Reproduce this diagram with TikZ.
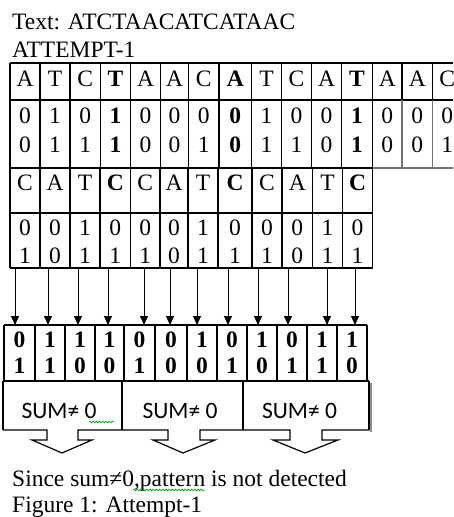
\documentclass[tikz,border=0pt]{standalone}
\usepackage{fontspec}
\setmainfont{Liberation Serif}
\newfontfamily\calib{Carlito}
\usetikzlibrary{arrows.meta,decorations.pathmorphing}
\begin{document}
\begin{tikzpicture}[x=1pt,y=-1pt,
  txt/.style={font=\fontsize{23.5}{28}\selectfont, inner sep=0pt, anchor=base},
  celln/.style={txt},
  cellb/.style={txt, font=\fontsize{23.5}{28}\selectfont\bfseries},
  gridline/.style={line width=1.2pt, black},
  softline/.style={line width=1.2pt, black!55},
  conn/.style={line width=0.9pt, -{Triangle[width=8pt,length=9pt]}},
  sumtxt/.style={font=\calib\fontsize{23.5}{26}\selectfont, inner sep=0pt, anchor=base},
  squig/.style={draw=green!60!black, decorate, decoration={snake, amplitude=1pt, segment length=3.2pt}, line width=0.6pt}
]
\clip (0,0) rectangle (453,517);
\fill[white] (0,0) rectangle (453,517);

% titles
\node[txt, anchor=base west] (title) at (12,29) {Text: ATCTAACATCATAAC};
\node[txt, anchor=base west] (attempt) at (12,57) {ATTEMPT-1};

% ---------- table 1 ----------
\draw[gridline] (10,63) -- (462,63);
\draw[gridline] (10,100) -- (462,100);
\draw[gridline] (10,168) -- (372.5,168);
\draw[softline] (372.5,168) -- (462,168);
\foreach \xb in {10,40,70,100.5,130.5,160.5,188.5,219,251.5,281.5,311.5,341.5,372.5}
  \draw[gridline] (\xb,63) -- (\xb,168);
\foreach \xb in {402,432.5}{
  \draw[gridline] (\xb,63) -- (\xb,100);
  \draw[softline] (\xb,100) -- (\xb,168);
}
\foreach \i/\xl/\xr/\l/\a/\b/\w in {
  1/10/40/A/0/0/n, 2/40/70/T/1/1/n, 3/70/100.5/C/0/1/n, 4/100.5/130.5/T/1/1/b,
  5/130.5/160.5/A/0/0/n, 6/160.5/188.5/A/0/0/n, 7/188.5/219/C/0/1/n, 8/219/251.5/A/0/0/b,
  9/251.5/281.5/T/1/1/n, 10/281.5/311.5/C/0/1/n, 11/311.5/341.5/A/0/0/n, 12/341.5/372.5/T/1/1/b,
  13/372.5/402/A/0/0/n, 14/402/432.5/A/0/0/n, 15/432.5/462/C/0/1/n}{
  \node[cell\w] (ta\i) at ({(\xl+\xr)/2},86) {\l};
  \node[cell\w] (tb\i) at ({(\xl+\xr)/2},123) {\a};
  \node[cell\w] (tc\i) at ({(\xl+\xr)/2},152) {\b};
}

% ---------- table 2 ----------
\draw[gridline] (10,213) -- (372.5,213);
\draw[gridline] (10,268) -- (372.5,268);
\foreach \xb in {10,40,70,100,130.5,160,188,218,252,282,312.5,342.5,372.5}
  \draw[gridline] (\xb,168) -- (\xb,268);
\foreach \i/\xl/\xr/\l/\a/\b/\w in {
  1/10/40/C/0/1/n, 2/40/70/A/0/0/n, 3/70/100/T/1/1/n, 4/100/130.5/C/0/1/b,
  5/130.5/160/C/0/1/n, 6/160/188/A/0/0/n, 7/188/218/T/1/1/n, 8/218/252/C/0/1/b,
  9/252/282/C/0/1/n, 10/282/312.5/A/0/0/n, 11/312.5/342.5/T/1/1/n, 12/342.5/372.5/C/0/1/b}{
  \node[cell\w] (ua\i) at ({(\xl+\xr)/2},190) {\l};
  \node[celln] (ub\i) at ({(\xl+\xr)/2},235) {\a};
  \node[celln] (uc\i) at ({(\xl+\xr)/2},263) {\b};
}

% ---------- table 3 ----------
\draw[gridline] (4,325) -- (367,325);
\draw[gridline] (4,381) -- (367,381);
\foreach \xb in {4,35,65,95,124,155,187,217,247,277,307,337,367}
  \draw[gridline] (\xb,325) -- (\xb,381);
\foreach \i/\xl/\xr/\a/\b in {
  1/4/35/0/1, 2/35/65/1/1, 3/65/95/1/0, 4/95/124/1/0,
  5/124/155/0/1, 6/155/187/0/0, 7/187/217/1/0, 8/217/247/0/1,
  9/247/277/1/0, 10/277/307/0/1, 11/307/337/1/1, 12/337/367/1/0}{
  \node[cellb] (va\i) at ({(\xl+\xr)/2},347) {\a};
  \node[cellb] (vb\i) at ({(\xl+\xr)/2},373) {\b};
}

% ---------- arrows ----------
\foreach \i/\x in {1/15,2/48,3/78,4/108,5/144,6/170,7/197,8/228,9/258,10/288,11/327,12/355}{
  \coordinate (s\i) at (\x,268.5);
  \coordinate (e\i) at (\x,325);
  \draw[conn] (s\i) -- (e\i);
}

% ---------- sum boxes ----------
\draw[black!45, line width=1.4pt] (371,383) -- (371,432);
\draw[gridline] (3,381) -- (369,381);
\foreach \xb in {3,122,243,369}
  \draw[gridline] (\xb,381) -- (\xb,430);
\draw[gridline, line join=miter]
  (3,430) -- (47,430) -- (47,440) -- (32,440) -- (62,453) -- (92,440) -- (78,440) -- (78,430)
  -- (168,430) -- (168,440) -- (153,440) -- (183,453) -- (215,440) -- (200,440) -- (200,430)
  -- (290,430) -- (290,440) -- (273,440) -- (305,453) -- (338,440) -- (322,440) -- (322,430)
  -- (369,430);
\node[sumtxt] (sum1) at (59,418) {SUM≠ 0};
\node[sumtxt] (sum2) at (180,418) {SUM≠ 0};
\node[sumtxt] (sum3) at (299.5,418) {SUM≠ 0};
\path[squig] (89,422) -- (114,422);

% ---------- caption ----------
\node[txt, anchor=base west] (since) at (12,486) {Since sum≠0,pattern is not detected};
\node[txt, anchor=base west] (fig) at (12,512) {Figure 1: Attempt-1};
\path[squig] (133,490) -- (205,490);
\end{tikzpicture}
\end{document}
